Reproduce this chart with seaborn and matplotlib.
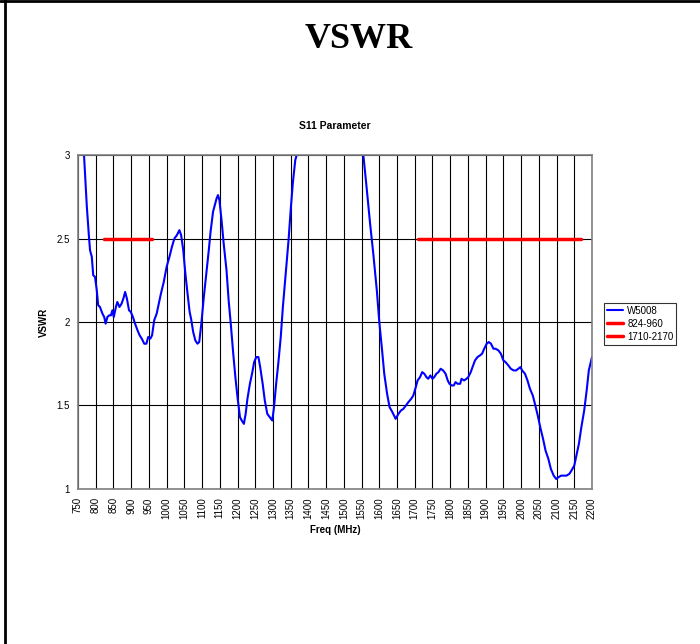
import matplotlib
matplotlib.use("Agg")
import matplotlib.pyplot as plt
import seaborn as sns
import numpy as np
from matplotlib.lines import Line2D

freq = [750, 767, 775, 781, 784, 789, 793, 798, 803, 807, 812, 819, 824, 828,
        833, 838, 843, 847, 851, 857, 861, 867, 873, 878, 883, 888, 894, 899,
        905, 911, 918, 924, 930, 937, 943, 948, 954, 959, 965, 972, 978, 984,
        992, 1000, 1008, 1015, 1022, 1029, 1036, 1041, 1047, 1052, 1058, 1065,
        1069, 1075, 1081, 1087, 1092, 1098, 1105, 1112, 1119, 1124, 1131, 1136,
        1141, 1145, 1149, 1155, 1161, 1169, 1175, 1181, 1188, 1194, 1200, 1207,
        1212, 1218, 1223, 1228, 1235, 1241, 1247, 1253, 1259, 1264, 1271, 1277,
        1284, 1291, 1298, 1303, 1309, 1315, 1322, 1328, 1336, 1344, 1350, 1356,
        1363, 1367, 1400, 1450, 1500, 1550, 1555, 1564, 1574, 1583, 1593, 1600,
        1607, 1614, 1622, 1629, 1637, 1646, 1654, 1661, 1668, 1675, 1682, 1690,
        1696, 1703, 1708, 1715, 1721, 1727, 1733, 1738, 1744, 1750, 1755, 1761,
        1767, 1773, 1780, 1787, 1793, 1798, 1804, 1810, 1815, 1821, 1828, 1832,
        1839, 1846, 1851, 1858, 1863, 1870, 1877, 1884, 1890, 1896, 1903, 1909,
        1915, 1922, 1928, 1936, 1943, 1950, 1956, 1964, 1971, 1979, 1986, 1992,
        1998, 2003, 2011, 2018, 2025, 2033, 2039, 2047, 2054, 2062, 2069, 2077,
        2084, 2092, 2099, 2105, 2113, 2120, 2128, 2136, 2142, 2150, 2156, 2163,
        2170, 2178, 2185, 2191, 2200]
vswr = [3.6, 3.0, 2.69, 2.51, 2.43, 2.39, 2.28, 2.27, 2.19, 2.10, 2.09, 2.05,
        2.03, 1.99, 2.03, 2.04, 2.04, 2.07, 2.03, 2.09, 2.12, 2.09, 2.11, 2.14,
        2.18, 2.14, 2.07, 2.06, 2.03, 1.99, 1.95, 1.92, 1.90, 1.87, 1.87, 1.91,
        1.90, 1.92, 2.01, 2.05, 2.11, 2.17, 2.24, 2.33, 2.39, 2.45, 2.50, 2.52,
        2.55, 2.52, 2.43, 2.31, 2.19, 2.06, 2.02, 1.94, 1.89, 1.87, 1.88, 1.99,
        2.15, 2.29, 2.43, 2.54, 2.66, 2.70, 2.74, 2.76, 2.73, 2.61, 2.47, 2.31,
        2.13, 1.99, 1.81, 1.67, 1.55, 1.43, 1.41, 1.39, 1.45, 1.54, 1.63, 1.69,
        1.76, 1.79, 1.79, 1.73, 1.63, 1.53, 1.45, 1.43, 1.41, 1.49, 1.63, 1.75,
        1.91, 2.09, 2.29, 2.49, 2.67, 2.83, 2.97, 3.0, 3.5, 3.8, 3.6, 3.1, 3.0,
        2.81, 2.59, 2.41, 2.19, 2.0, 1.85, 1.69, 1.57, 1.49, 1.46, 1.42, 1.45,
        1.47, 1.48, 1.50, 1.52, 1.54, 1.56, 1.61, 1.65, 1.67, 1.70, 1.69, 1.67,
        1.66, 1.68, 1.66, 1.67, 1.69, 1.70, 1.72, 1.71, 1.69, 1.65, 1.63, 1.62,
        1.62, 1.64, 1.63, 1.63, 1.66, 1.65, 1.66, 1.67, 1.70, 1.73, 1.77, 1.79,
        1.80, 1.81, 1.84, 1.87, 1.88, 1.87, 1.84, 1.84, 1.83, 1.81, 1.77, 1.76,
        1.74, 1.72, 1.71, 1.71, 1.72, 1.73, 1.71, 1.69, 1.65, 1.60, 1.56, 1.51,
        1.44, 1.37, 1.30, 1.23, 1.18, 1.12, 1.08, 1.06, 1.07, 1.08, 1.08, 1.08,
        1.09, 1.11, 1.14, 1.20, 1.27, 1.37, 1.47, 1.59, 1.71, 1.79]

# Band limit lines
band1_freq = [824, 960]
band2_freq = [1710, 2170]
band_level = [2.5, 2.5]

xticks = list(range(750, 2201, 50))
yticks = [1, 1.5, 2, 2.5, 3]

sns.set_style("white")
plt.rcParams["font.family"] = ["Liberation Sans", "DejaVu Sans"]
plt.rcParams["text.color"] = "black"
plt.rcParams["axes.labelcolor"] = "black"
plt.rcParams["xtick.color"] = "black"
plt.rcParams["ytick.color"] = "black"

fig = plt.figure(figsize=(7, 6.44), dpi=100)
ax = fig.add_axes([0.1114, 0.2407, 0.7343, 0.5186])

sns.lineplot(x=freq, y=vswr, ax=ax, color="#0000ff", lw=1.5, label="W5008",
             sort=False)
sns.lineplot(x=band1_freq, y=band_level, ax=ax, color="#ff0000", lw=2.5,
             label="824-960")
sns.lineplot(x=band2_freq, y=band_level, ax=ax, color="#ff0000", lw=2.5,
             label="1710-2170")

ax.set_xlim(750, 2200)
ax.set_ylim(1, 3)
ax.set_xticks(xticks)
ax.set_xticklabels([str(t) for t in xticks], rotation=90, fontsize=7)
ax.set_yticks(yticks)
ax.set_yticklabels(["1", "1.5", "2", "2.5", "3"], fontsize=7)
ax.grid(True, color="black", lw=0.8)
ax.set_axisbelow(True)
for s in ax.spines.values():
    s.set_color("#808080")
    s.set_linewidth(1.2)
ax.tick_params(direction="out", length=4, width=0.8, color="black", pad=2)
ax.set_xlabel("Freq (MHz)", fontsize=7, fontweight="bold", labelpad=4)
ax.set_ylabel("VSWR", fontsize=7, fontweight="bold", labelpad=5)
ax.set_title("S11 Parameter", fontsize=7.5, fontweight="bold", pad=19)

leg = ax.legend(loc="upper left", bbox_to_anchor=(1.023, 0.557), fontsize=7,
                frameon=True, fancybox=False, handlelength=1.7,
                handletextpad=0.4, borderpad=0.3, labelspacing=0.3,
                borderaxespad=0)
leg.get_frame().set_edgecolor("black")
leg.get_frame().set_linewidth(0.8)

fig.text(0.512, 0.939, "VSWR", ha="center", va="center", fontsize=26,
         fontweight="bold", family="Liberation Serif", color="black")

# page frame (top and left edges)
fig.add_artist(Line2D([0, 1], [0.998, 0.998], color="black", lw=2,
                      transform=fig.transFigure))
fig.add_artist(Line2D([0.007, 0.007], [0, 1], color="black", lw=2,
                      transform=fig.transFigure))

plt.savefig("out.png", dpi=100)
